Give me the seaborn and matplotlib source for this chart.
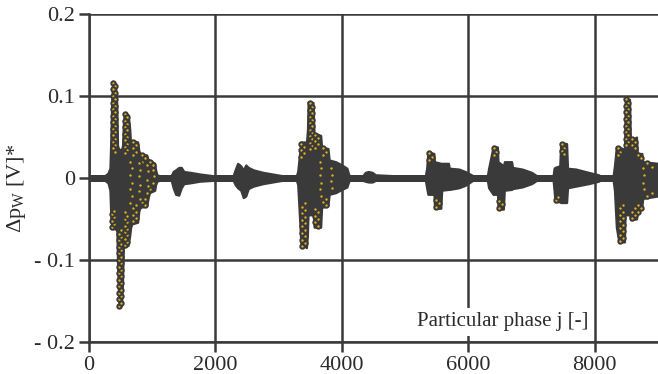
import matplotlib
matplotlib.use("Agg")
import matplotlib.pyplot as plt
import seaborn as sns

# ---- envelope of the dense signal ----
env_x = [0, 250, 300, 330, 345, 360, 375, 420, 440, 452, 470, 490, 515, 530, 545, 560, 620, 645, 660, 680,
         770, 790, 810, 915, 935, 955, 1040, 1055, 1075, 1110,
         1300, 1330, 1370, 1420, 1460, 1500, 1600, 1750, 1950,
         2280, 2310, 2350, 2400, 2440, 2480, 2520, 2600, 2750, 2900, 3050,
         3280, 3300, 3330, 3350, 3440, 3455, 3465, 3545, 3560, 3665, 3680, 3780, 3800, 3900, 4000, 4080, 4110, 4130,
         4330, 4370, 4420, 4480, 4530, 4800, 5200,
         5320, 5340, 5360, 5455, 5465, 5565, 5580, 5685, 5700, 5850, 5950, 6050, 6070,
         6300, 6320, 6390, 6460, 6470, 6555, 6570, 6685, 6700, 6850, 7000, 7080,
         7340, 7355, 7370, 7445, 7460, 7555, 7570, 7700, 7900, 8060, 8080,
         8290, 8310, 8340, 8380, 8470, 8480, 8550, 8565, 8660, 8675, 8745, 8760, 9000]
env_hi = [0.003, 0.003, 0.006, 0.012, 0.05, 0.10, 0.118, 0.115, 0.09, 0.04, 0.035, 0.035, 0.035, 0.04, 0.07, 0.079, 0.077, 0.06, 0.04, 0.046,
          0.044, 0.033, 0.03, 0.028, 0.022, 0.022, 0.018, 0.01, 0.004, 0.003,
          0.003, 0.008, 0.010, 0.013, 0.013, 0.008, 0.007, 0.005, 0.003,
          0.003, 0.010, 0.018, 0.015, 0.010, 0.016, 0.013, 0.010, 0.007, 0.005, 0.003,
          0.003, 0.008, 0.030, 0.044, 0.044, 0.060, 0.093, 0.092, 0.055, 0.052, 0.038, 0.036, 0.022, 0.020, 0.016, 0.012, 0.004, 0.003,
          0.003, 0.007, 0.008, 0.007, 0.004, 0.003, 0.003,
          0.003, 0.012, 0.032, 0.030, 0.020, 0.018, 0.018, 0.018, 0.012, 0.011, 0.008, 0.004, 0.003,
          0.003, 0.012, 0.038, 0.038, 0.020, 0.015, 0.020, 0.020, 0.013, 0.011, 0.007, 0.003,
          0.003, 0.012, 0.013, 0.015, 0.043, 0.042, 0.012, 0.011, 0.007, 0.004, 0.003,
          0.003, 0.015, 0.038, 0.038, 0.035, 0.097, 0.096, 0.046, 0.050, 0.030, 0.030, 0.020, 0.018]
env_lo = [-0.003, -0.003, -0.006, -0.015, -0.05, -0.06, -0.062, -0.062, -0.065, -0.11, -0.15, -0.158, -0.155, -0.13, -0.084, -0.084, -0.082, -0.07, -0.06, -0.056,
          -0.054, -0.04, -0.036, -0.034, -0.025, -0.018, -0.015, -0.008, -0.004, -0.003,
          -0.003, -0.012, -0.020, -0.021, -0.012, -0.007, -0.006, -0.004, -0.003,
          -0.003, -0.008, -0.012, -0.015, -0.024, -0.022, -0.013, -0.010, -0.007, -0.005, -0.003,
          -0.003, -0.008, -0.050, -0.080, -0.085, -0.070, -0.045, -0.045, -0.060, -0.060, -0.036, -0.034, -0.020, -0.018, -0.014, -0.011, -0.004, -0.003,
          -0.003, -0.004, -0.005, -0.005, -0.003, -0.003, -0.003,
          -0.003, -0.012, -0.020, -0.020, -0.037, -0.037, -0.015, -0.014, -0.014, -0.012, -0.009, -0.004, -0.003,
          -0.003, -0.012, -0.020, -0.020, -0.038, -0.038, -0.015, -0.014, -0.013, -0.011, -0.007, -0.003,
          -0.003, -0.015, -0.029, -0.029, -0.030, -0.030, -0.012, -0.010, -0.007, -0.004, -0.003,
          -0.003, -0.015, -0.060, -0.078, -0.078, -0.045, -0.045, -0.051, -0.050, -0.043, -0.035, -0.025, -0.022]

# ---- strands of individually visible samples: (x left, x right, y values) ----
strands = [
    (385, 410, [0.116, 0.112, 0.108, 0.104, 0.100, 0.096, 0.092, 0.088, 0.084, 0.080, 0.076, 0.072,
                0.068, 0.064, 0.060, 0.056, 0.052, 0.048, 0.044, 0.040, 0.036, 0.032]),
    (370, 400, [-0.060, -0.056, -0.052, -0.048, -0.044, -0.040]),
    (480, 505, [-0.156, -0.152, -0.148, -0.144, -0.140, -0.136, -0.132, -0.128, -0.124, -0.120, -0.116,
                -0.112, -0.108, -0.104, -0.100, -0.096, -0.092, -0.088, -0.084, -0.080, -0.076, -0.072,
                -0.068, -0.064]),
    (570, 605, [0.078, 0.074, 0.070, 0.066, 0.062, 0.058, 0.054, 0.050, 0.046, 0.042, 0.038, 0.034, 0.030]),
    (565, 600, [-0.082, -0.078, -0.074, -0.070, -0.066, -0.062, -0.058, -0.054, -0.050, -0.046, -0.042]),
    (700, 740, [0.044, 0.040, 0.036, 0.032, 0.028]),
    (700, 740, [-0.053, -0.049, -0.045, -0.041, -0.037, -0.033]),
    (840, 880, [0.028, 0.024, 0.020, -0.033, -0.029, -0.025]),
    (970, 1010, [0.020, 0.016, -0.014]),
    (655, 675, [0.020, 0.012, 0.004, -0.006, -0.014, -0.022, -0.030]),
    (790, 810, [0.018, 0.010, 0.002, -0.008, -0.016, -0.026]),
    (920, 940, [0.016, 0.008, -0.002, -0.010, -0.018]),
    (1020, 1035, [0.010, 0.002, -0.006]),
    (3490, 3520, [0.091, 0.087, 0.083, 0.079, 0.075, 0.071, 0.067, 0.063, 0.059, 0.055, 0.051, 0.047,
                  0.043, 0.039, 0.035]),
    (3370, 3410, [-0.083, -0.079, -0.075, -0.071, -0.067, -0.063, -0.059, -0.055, -0.051, -0.047,
                  -0.043, -0.039, -0.035, -0.031]),
    (3360, 3400, [0.042, 0.038, 0.034, 0.030, 0.026]),
    (3580, 3630, [0.053, 0.049, 0.045, 0.041, 0.037, -0.058, -0.054, -0.050, -0.046, -0.042, -0.038]),
    (3700, 3750, [0.036, 0.032, 0.028, -0.033, -0.029, -0.025]),
    (3660, 3675, [0.020, 0.012, 0.004, -0.006, -0.014, -0.022]),
    (3820, 3840, [0.012, 0.004, -0.004, -0.012]),
    (8495, 8530, [0.096, 0.092, 0.088, 0.084, 0.080, 0.076, 0.072, 0.068, 0.064, 0.060, 0.056, 0.052,
                  0.048, 0.044, 0.040]),
    (8395, 8440, [-0.077, -0.073, -0.069, -0.065, -0.061, -0.057, -0.053, -0.049, -0.045, -0.041,
                  -0.037, -0.033]),
    (8360, 8400, [0.036, 0.032, 0.028]),
    (8590, 8640, [0.048, 0.044, 0.040, 0.036, -0.049, -0.045, -0.041, -0.037]),
    (8690, 8730, [0.028, 0.024, -0.041, -0.037, -0.033]),
    (8820, 8900, [0.018, 0.014, -0.022, -0.018]),
    (8770, 8785, [0.012, 0.004, -0.006, -0.014]),
    (5380, 5420, [0.030, 0.026, 0.022]),
    (5490, 5530, [-0.035, -0.031, -0.027]),
    (6400, 6440, [0.036, 0.032, 0.028]),
    (6490, 6530, [-0.036, -0.032, -0.028]),
    (7480, 7520, [0.041, 0.037, 0.033, 0.029]),
    (7390, 7420, [-0.027, -0.023]),
]

x_ticks = [0, 2000, 4000, 6000, 8000]
y_ticks = [-0.2, -0.1, 0.0, 0.1, 0.2]
y_tick_labels = ["- 0.2", "- 0.1", "0", "0.1", "0.2"]
x_label = "Particular phase j [-]"
y_label = r"$\Delta \mathrm{p}_\mathrm{W}$ [V]*"

dot_x, dot_y = [], []
for xl, xr, ys in strands:
    for i, y in enumerate(ys):
        dot_x.append(xl if i % 2 == 0 else xr)
        dot_y.append(y)

# ---- style ----
sns.set_theme(style="white")
plt.rcParams["font.family"] = ["Liberation Serif", "DejaVu Serif"]
plt.rcParams["mathtext.fontset"] = "custom"
plt.rcParams["mathtext.rm"] = "Liberation Serif"
plt.rcParams["mathtext.it"] = "Liberation Serif:italic"

DARK = "#3a3a3a"
TXT = "#2b2b2b"

fig = plt.figure(figsize=(6.58, 3.74), dpi=100)
ax = fig.add_axes([89 / 658, 1 - 342 / 374, 1 - 89 / 658, (342 - 14) / 374])

ax.fill_between(env_x, env_lo, env_hi, color=DARK, linewidth=1.5, edgecolor=DARK, zorder=2)
sns.scatterplot(x=dot_x, y=dot_y, s=10, color="#e2b21c", edgecolor=DARK, linewidth=1.4,
                zorder=3, ax=ax, legend=False)

ax.set_xlim(0, 9000)
ax.set_ylim(-0.2, 0.2)
ax.set_xticks(x_ticks)
ax.set_xticklabels([str(t) for t in x_ticks])
ax.set_yticks(y_ticks)
ax.set_yticklabels(y_tick_labels)

ax.grid(True, color=DARK, linewidth=1.8, zorder=0.5)
ax.set_axisbelow(True)
for side in ["top", "right"]:
    ax.spines[side].set_visible(False)
for side in ["left", "bottom"]:
    ax.spines[side].set_color(DARK)
    ax.spines[side].set_linewidth(1.8)

ax.tick_params(axis="both", which="major", direction="out", length=7, width=1.8,
               color=DARK, labelsize=16, labelcolor=TXT, pad=3,
               left=True, bottom=True)

ax.set_ylabel(y_label, fontsize=16, color=TXT)
ax.yaxis.set_label_coords(-0.108, 0.47)
ax.set_xlabel("")
ax.text(6540, -0.1756, x_label, fontsize=15, color=TXT, ha="center", va="center",
        bbox=dict(facecolor="white", edgecolor="none", pad=3), zorder=4)

fig.savefig("out.png", dpi=100)
